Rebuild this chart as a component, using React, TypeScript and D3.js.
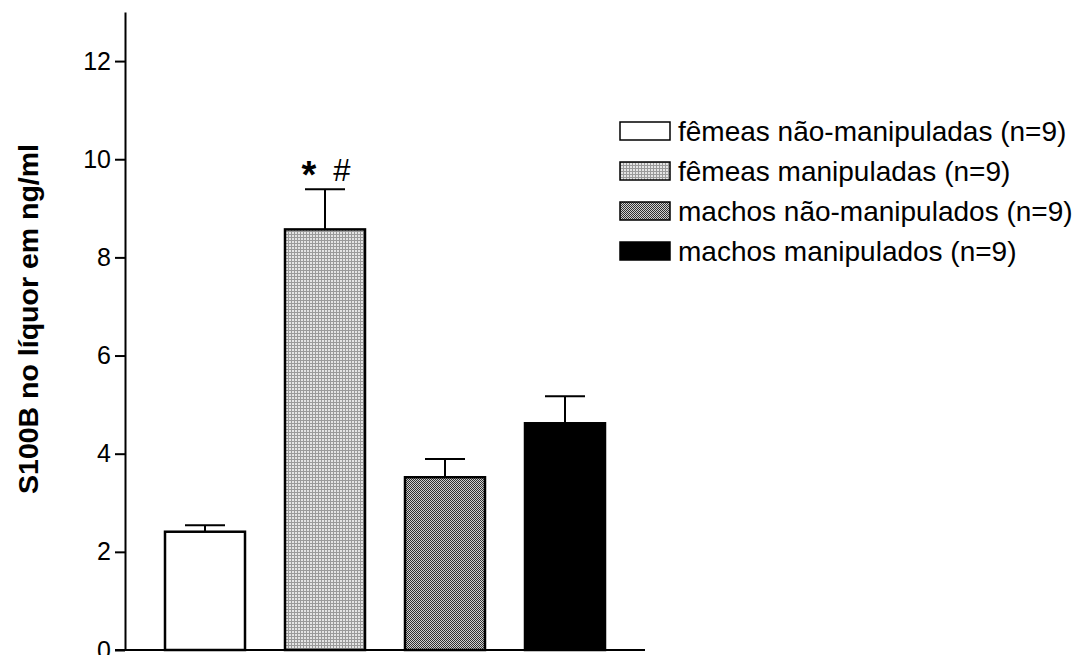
import React, { useEffect, useRef } from 'react';
import * as d3 from 'd3';

const groups = ['fêmeas não-manipuladas (n=9)', 'fêmeas manipuladas (n=9)', 'machos não-manipulados (n=9)', 'machos manipulados (n=9)'];
const means = [2.41, 8.57, 3.52, 4.62];
const sems = [0.13, 0.82, 0.37, 0.55];
const fills = ['#ffffff', 'url(#patLight)', 'url(#patDark)', '#000000'];
const yTicks = [0, 2, 4, 6, 8, 10, 12];
const annotations = ['', '* #', '', ''];

const App = () => {
  const svgRef = useRef<SVGSVGElement>(null);

  useEffect(() => {
    const svg = d3.select(svgRef.current);
    svg.selectAll('*').remove();

    const width = 1082;
    const height = 655;
    const margin = { top: 12, left: 125, bottom: 5, right: 437 };
    const font = 'Liberation Sans, Arial, sans-serif';

    // patterns for the hatched bars
    const defs = svg.append('defs');
    const light = defs.append('pattern').attr('id', 'patLight')
      .attr('width', 3).attr('height', 3).attr('patternUnits', 'userSpaceOnUse');
    light.append('rect').attr('width', 3).attr('height', 3).attr('fill', '#e4e4e4');
    light.append('rect').attr('width', 1).attr('height', 3).attr('fill', '#9a9a9a');
    light.append('rect').attr('width', 3).attr('height', 1).attr('fill', '#9a9a9a');
    const dark = defs.append('pattern').attr('id', 'patDark')
      .attr('width', 2).attr('height', 2).attr('patternUnits', 'userSpaceOnUse');
    dark.append('rect').attr('width', 2).attr('height', 2).attr('fill', '#d0d0d0');
    dark.append('rect').attr('width', 1).attr('height', 1).attr('fill', '#303030');
    dark.append('rect').attr('x', 1).attr('y', 1).attr('width', 1).attr('height', 1).attr('fill', '#303030');

    const x = d3.scaleBand<number>()
      .domain(d3.range(groups.length))
      .range([margin.left, width - margin.right])
      .paddingInner(1 / 3)
      .paddingOuter(1 / 3);

    const y = d3.scaleLinear()
      .domain([0, 13])
      .range([height - margin.bottom, margin.top]);

    // Y axis
    const yAxis = svg.append('g')
      .attr('transform', `translate(${margin.left},0)`)
      .call(d3.axisLeft(y).tickValues(yTicks).tickSize(10).tickPadding(4).tickSizeOuter(0));
    yAxis.attr('font-size', null).attr('font-family', null);
    yAxis.select('.domain').attr('stroke-width', 2);
    yAxis.selectAll('line').attr('stroke-width', 2);
    yAxis.selectAll('text').attr('font-family', font).attr('font-size', 25).attr('fill', '#000');

    // X axis line
    svg.append('line')
      .attr('x1', margin.left - 10).attr('x2', width - margin.right)
      .attr('y1', y(0)).attr('y2', y(0))
      .attr('stroke', '#000').attr('stroke-width', 2);

    svg.append('text')
      .attr('transform', `translate(38,319) rotate(-90)`)
      .attr('text-anchor', 'middle')
      .attr('font-family', font).attr('font-weight', 'bold').attr('font-size', 28.5)
      .text('S100B no líquor em ng/ml');

    // error bars
    const eb = svg.append('g');
    means.forEach((m, i) => {
      const cx = x(i)! + x.bandwidth() / 2;
      eb.append('line').attr('x1', cx).attr('x2', cx)
        .attr('y1', y(m)).attr('y2', y(m + sems[i]))
        .attr('stroke', '#000').attr('stroke-width', 2);
      eb.append('line').attr('x1', cx - x.bandwidth() / 4).attr('x2', cx + x.bandwidth() / 4)
        .attr('y1', y(m + sems[i])).attr('y2', y(m + sems[i]))
        .attr('stroke', '#000').attr('stroke-width', 2);
    });

    // bars
    svg.append('g').selectAll('rect')
      .data(means)
      .enter()
      .append('rect')
      .attr('x', (_, i) => x(i)!)
      .attr('y', d => y(d))
      .attr('width', x.bandwidth())
      .attr('height', d => y(0) - y(d))
      .attr('fill', (_, i) => fills[i])
      .attr('stroke', '#000')
      .attr('stroke-width', 2.5);

    // significance marks
    annotations.forEach((a, i) => {
      if (!a) return;
      const [star, hash] = a.split(' ');
      const t = svg.append('text')
        .attr('x', x(i)! + x.bandwidth() / 2 + 1)
        .attr('y', y(means[i] + sems[i]) - 8)
        .attr('text-anchor', 'middle')
        .attr('font-family', font).attr('font-size', 31);
      t.append('tspan').attr('font-size', 38).attr('font-weight', 'bold').attr('dy', 7).text(star);
      t.append('tspan').attr('dx', 17).attr('dy', -7).text(hash);
    });

    // legend
    const legend = svg.append('g').attr('transform', 'translate(620,122)');
    groups.forEach((g, i) => {
      const row = legend.append('g').attr('transform', `translate(0,${i * 40})`);
      row.append('rect').attr('width', 50).attr('height', 18)
        .attr('fill', fills[i]).attr('stroke', '#000').attr('stroke-width', 1.5);
      row.append('text').attr('x', 58).attr('y', 9).attr('dy', '0.36em')
        .attr('font-family', font).attr('font-size', 28)
        .text(g);
    });
  }, []);

  return (
    <svg ref={svgRef} width={1082} height={655}
      style={{ position: 'absolute', left: 0, top: 0, background: '#fff' }} />
  );
};

export default App;
